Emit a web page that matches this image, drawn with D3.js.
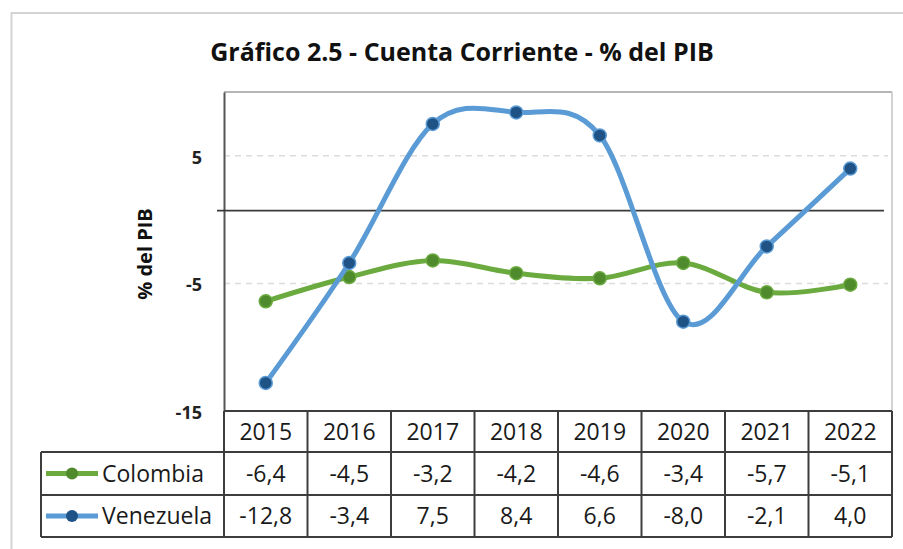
<!DOCTYPE html>
<html>
<head>
<meta charset="utf-8">
<script src="https://cdn.jsdelivr.net/npm/d3@7"></script>
<style>
  body { margin: 0; background: #fff; }
  svg { display: block; font-family: "Open Sans", sans-serif; }
</style>
</head>
<body>
<svg id="chart"></svg>
<script>
// ---------------- data ----------------
var years = ['2015', '2016', '2017', '2018', '2019', '2020', '2021', '2022'];
var colombia = [-6.4, -4.5, -3.2, -4.2, -4.6, -3.4, -5.7, -5.1];
var venezuela = [-12.8, -3.4, 7.5, 8.4, 6.6, -8.0, -2.1, 4.0];
var yTicks = [-15, -5, 5];
var yDomain = [-15, 10];
var crossAt = 0.7; // where the dark horizontal rule sits in the original

var series = [
  { name: 'Colombia', values: colombia, line: '#6aaa3f', marker: '#4f8a2c' },
  { name: 'Venezuela', values: venezuela, line: '#5b9bd5', marker: '#1f5285' }
];

// ---------------- layout ----------------
var width = 903, height = 549;
var plot = { left: 224, right: 892, top: 92, bottom: 411 };
var tableLeft = 41;
var rowH = [41, 43, 42];

var svg = d3.select('#chart')
  .attr('width', width)
  .attr('height', height);

// outer chart frame
svg.append('rect')
  .attr('x', 11.5).attr('y', 13)
  .attr('width', width).attr('height', height)
  .attr('fill', 'none')
  .attr('stroke', '#d4d4d4')
  .attr('stroke-width', 2);

// title
svg.append('text')
  .text('Gráfico 2.5 - Cuenta Corriente - % del PIB')
  .attr('x', 462)
  .attr('y', 61)
  .attr('text-anchor', 'middle')
  .attr('font-size', 25)
  .attr('font-weight', 'bold')
  .attr('fill', '#111');

// ---------------- scales ----------------
var xScale = d3.scaleBand()
  .domain(years)
  .range([plot.left, plot.right]);

var yScale = d3.scaleLinear()
  .domain(yDomain)
  .range([plot.bottom, plot.top]);

var cx = d => xScale(d) + xScale.bandwidth() / 2;

// gridlines
svg.append('g')
  .selectAll('line')
  .data(yTicks.filter(t => t !== yDomain[0]))
  .enter()
  .append('line')
    .attr('x1', plot.left)
    .attr('x2', plot.right - 4)
    .attr('y1', d => yScale(d))
    .attr('y2', d => yScale(d))
    .attr('stroke', '#dcdcdc')
    .attr('stroke-width', 1.5)
    .attr('stroke-dasharray', '6,5');

// plot frame (top + right light)
svg.append('line')
  .attr('x1', plot.left).attr('x2', plot.right)
  .attr('y1', plot.top).attr('y2', plot.top)
  .attr('stroke', '#9c9c9c').attr('stroke-width', 1.5);
svg.append('line')
  .attr('x1', plot.right).attr('x2', plot.right)
  .attr('y1', plot.top).attr('y2', plot.bottom)
  .attr('stroke', '#c4c4c4').attr('stroke-width', 1.5);

// y axis
var yAxis = svg.append('g')
  .attr('transform', `translate(${plot.left}, 0)`)
  .call(d3.axisLeft(yScale).tickValues(yTicks).tickSize(0).tickPadding(22).tickFormat(d => String(d)));
yAxis.select('.domain')
  .attr('stroke', '#555')
  .attr('stroke-width', 2);
yAxis.selectAll('text')
  .attr('font-family', '"Open Sans", sans-serif')
  .attr('font-size', 18)
  .attr('font-weight', 'bold')
  .attr('fill', '#222')
  .attr('dy', '0.4em');

svg.append('text')
  .text('% del PIB')
  .attr('transform', 'rotate(-90)')
  .attr('x', -254)
  .attr('y', 152)
  .attr('text-anchor', 'middle')
  .attr('font-size', 20)
  .attr('font-weight', 'bold')
  .attr('fill', '#111');

// dark horizontal rule
svg.append('line')
  .attr('x1', plot.left - 7)
  .attr('x2', plot.right - 8)
  .attr('y1', yScale(crossAt))
  .attr('y2', yScale(crossAt))
  .attr('stroke', '#3a3a3a')
  .attr('stroke-width', 1.8);

// ---------------- lines ----------------
var line = d3.line()
  .x((d, i) => cx(years[i]))
  .y(d => yScale(d))
  .curve(d3.curveCatmullRom.alpha(0));

series.forEach(function(s) {
  svg.append('path')
    .datum(s.values)
    .attr('d', line)
    .attr('fill', 'none')
    .attr('stroke', s.line)
    .attr('stroke-width', 5)
    .attr('stroke-linecap', 'round');

  svg.append('g')
    .selectAll('circle')
    .data(s.values)
    .enter()
    .append('circle')
      .attr('cx', (d, i) => cx(years[i]))
      .attr('cy', d => yScale(d))
      .attr('r', 6.5)
      .attr('fill', s.marker)
      .attr('stroke', s.line)
      .attr('stroke-width', 1.5);
});

// ---------------- data table ----------------
var rowTop = [plot.bottom, plot.bottom + rowH[0], plot.bottom + rowH[0] + rowH[1]];
var tableBottom = rowTop[2] + rowH[2];
var tbl = svg.append('g');
var fmt = v => v.toFixed(1).replace('.', ',');
var border = '#3d3d3d';

// horizontal rules
[plot.bottom, rowTop[1], rowTop[2], tableBottom].forEach(function(y, i) {
  tbl.append('line')
    .attr('x1', i === 0 ? plot.left : tableLeft)
    .attr('x2', plot.right)
    .attr('y1', y).attr('y2', y)
    .attr('stroke', border).attr('stroke-width', 2);
});

// vertical rules
years.forEach(function(y) {
  tbl.append('line')
    .attr('x1', xScale(y)).attr('x2', xScale(y))
    .attr('y1', plot.bottom).attr('y2', tableBottom)
    .attr('stroke', border).attr('stroke-width', 2);
});
tbl.append('line')
  .attr('x1', plot.right).attr('x2', plot.right)
  .attr('y1', plot.bottom).attr('y2', tableBottom)
  .attr('stroke', border).attr('stroke-width', 2);
tbl.append('line')
  .attr('x1', tableLeft).attr('x2', tableLeft)
  .attr('y1', rowTop[1]).attr('y2', tableBottom)
  .attr('stroke', border).attr('stroke-width', 2);

// year headers
tbl.selectAll('.yr')
  .data(years)
  .enter()
  .append('text')
    .attr('x', d => cx(d))
    .attr('y', rowTop[0] + rowH[0] / 2)
    .attr('dy', '0.36em')
    .attr('text-anchor', 'middle')
    .attr('font-size', 23)
    .attr('fill', '#1a1a1a')
    .text(d => d);

// series rows
series.forEach(function(s, k) {
  var yMid = rowTop[k + 1] + rowH[k + 1] / 2;

  tbl.append('line')
    .attr('x1', tableLeft + 5).attr('x2', tableLeft + 57)
    .attr('y1', yMid).attr('y2', yMid)
    .attr('stroke', s.line).attr('stroke-width', 5);
  tbl.append('circle')
    .attr('cx', tableLeft + 31).attr('cy', yMid)
    .attr('r', 6)
    .attr('fill', s.marker);

  tbl.append('text')
    .attr('x', tableLeft + 61)
    .attr('y', yMid)
    .attr('dy', '0.36em')
    .attr('font-size', 23)
    .attr('fill', '#1a1a1a')
    .text(s.name);

  tbl.selectAll('.v' + k)
    .data(s.values)
    .enter()
    .append('text')
      .attr('x', (d, i) => cx(years[i]))
      .attr('y', yMid)
      .attr('dy', '0.36em')
      .attr('text-anchor', 'middle')
      .attr('font-size', 23)
      .attr('fill', '#1a1a1a')
      .text(d => fmt(d));
});
</script>
</body>
</html>
